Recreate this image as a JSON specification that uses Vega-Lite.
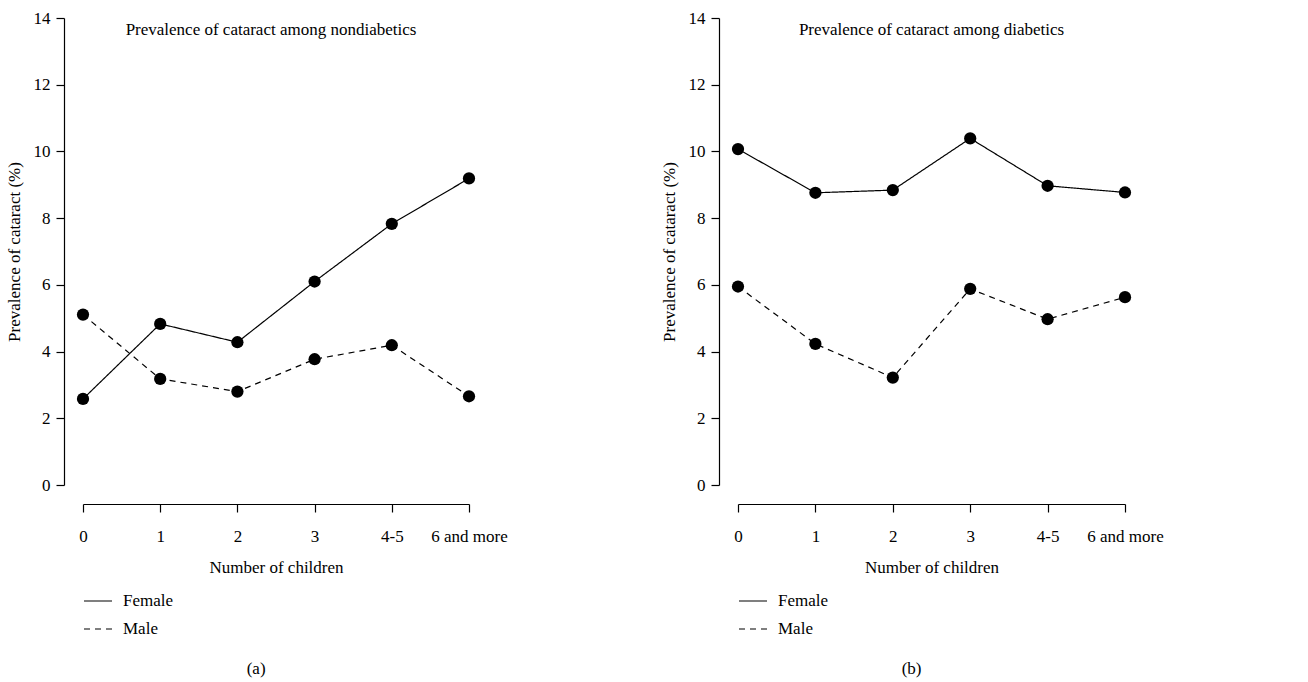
{
  "$schema": "https://vega.github.io/schema/vega-lite/v6.json",
  "background": "white",
  "padding": {"left": 5, "top": 9, "right": 5, "bottom": 5},
  "config": {
    "font": "Liberation Serif",
    "view": {"stroke": null},
    "axis": {
      "domainColor": "black", "tickColor": "black", "labelColor": "black", "titleColor": "black",
      "labelFont": "Liberation Serif", "titleFont": "Liberation Serif",
      "labelFontSize": 17, "titleFontSize": 17, "titleFontWeight": "normal",
      "grid": false, "tickSize": 8, "domainWidth": 1.2, "tickWidth": 1.2
    },
    "legend": {
      "labelFont": "Liberation Serif", "labelFontSize": 17, "labelColor": "black",
      "symbolType": "stroke", "symbolStrokeColor": "black", "symbolStrokeWidth": 1.2,
      "symbolSize": 784, "labelOffset": 10, "rowPadding": 5
    },
    "title": {"font": "Liberation Serif", "fontSize": 17, "fontWeight": "normal", "color": "black"}
  },
  "data": {
    "values": [
      {"panel": "a", "sex": "Female", "children": "0", "value": 2.58},
      {"panel": "a", "sex": "Female", "children": "1", "value": 4.83},
      {"panel": "a", "sex": "Female", "children": "2", "value": 4.28},
      {"panel": "a", "sex": "Female", "children": "3", "value": 6.10},
      {"panel": "a", "sex": "Female", "children": "4-5", "value": 7.83},
      {"panel": "a", "sex": "Female", "children": "6 and more", "value": 9.19},
      {"panel": "a", "sex": "Male", "children": "0", "value": 5.11},
      {"panel": "a", "sex": "Male", "children": "1", "value": 3.18},
      {"panel": "a", "sex": "Male", "children": "2", "value": 2.80},
      {"panel": "a", "sex": "Male", "children": "3", "value": 3.77},
      {"panel": "a", "sex": "Male", "children": "4-5", "value": 4.19},
      {"panel": "a", "sex": "Male", "children": "6 and more", "value": 2.66},
      {"panel": "b", "sex": "Female", "children": "0", "value": 10.07},
      {"panel": "b", "sex": "Female", "children": "1", "value": 8.76},
      {"panel": "b", "sex": "Female", "children": "2", "value": 8.84},
      {"panel": "b", "sex": "Female", "children": "3", "value": 10.39},
      {"panel": "b", "sex": "Female", "children": "4-5", "value": 8.97},
      {"panel": "b", "sex": "Female", "children": "6 and more", "value": 8.77},
      {"panel": "b", "sex": "Male", "children": "0", "value": 5.95},
      {"panel": "b", "sex": "Male", "children": "1", "value": 4.23},
      {"panel": "b", "sex": "Male", "children": "2", "value": 3.22},
      {"panel": "b", "sex": "Male", "children": "3", "value": 5.88},
      {"panel": "b", "sex": "Male", "children": "4-5", "value": 4.97},
      {"panel": "b", "sex": "Male", "children": "6 and more", "value": 5.63}
    ]
  },
  "spacing": 152,
  "hconcat": [
    {
      "title": {"text": "(a)", "orient": "bottom", "anchor": "middle", "offset": 24},
      "vconcat": [
        {
          "width": 386, "height": 467,
          "title": {"text": "Prevalence of cataract among nondiabetics", "dy": 34, "dx": -5},
          "transform": [{"filter": "datum.panel === 'a'"}],
          "encoding": {
            "x": {"field": "children", "type": "ordinal", "sort": ["0", "1", "2", "3", "4-5", "6 and more"],
                  "scale": {"type": "point", "padding": 0},
                  "axis": {"title": "Number of children", "labelAngle": 0, "offset": 19, "labelPadding": 16, "titlePadding": 15}},
            "y": {"field": "value", "type": "quantitative", "scale": {"domain": [0, 14], "nice": false},
                  "axis": {"title": "Prevalence of cataract (%)", "values": [0, 2, 4, 6, 8, 10, 12, 14], "offset": 19, "labelPadding": 6, "titlePadding": 10}}
          },
          "layer": [
            {
              "mark": {"type": "line", "color": "black", "strokeWidth": 1.2},
              "encoding": {
                "strokeDash": {"field": "sex", "type": "nominal",
                  "scale": {"domain": ["Female", "Male"], "range": [[1, 0], [6, 5]]},
                  "legend": {"title": null, "orient": "none", "legendX": 0, "legendY": 568}}
              }
            },
            {
              "mark": {"type": "circle", "size": 150, "opacity": 1, "color": "black"},
              "encoding": {"detail": {"field": "sex", "type": "nominal"}}
            }
          ]
        }
      ]
    },
    {
      "title": {"text": "(b)", "orient": "bottom", "anchor": "middle", "offset": 24},
      "vconcat": [
        {
          "width": 387, "height": 467,
          "title": {"text": "Prevalence of cataract among diabetics", "dy": 34},
          "transform": [{"filter": "datum.panel === 'b'"}],
          "encoding": {
            "x": {"field": "children", "type": "ordinal", "sort": ["0", "1", "2", "3", "4-5", "6 and more"],
                  "scale": {"type": "point", "padding": 0},
                  "axis": {"title": "Number of children", "labelAngle": 0, "offset": 19, "labelPadding": 16, "titlePadding": 15}},
            "y": {"field": "value", "type": "quantitative", "scale": {"domain": [0, 14], "nice": false},
                  "axis": {"title": "Prevalence of cataract (%)", "values": [0, 2, 4, 6, 8, 10, 12, 14], "offset": 19, "labelPadding": 6, "titlePadding": 10}}
          },
          "layer": [
            {
              "mark": {"type": "line", "color": "black", "strokeWidth": 1.2},
              "encoding": {
                "strokeDash": {"field": "sex", "type": "nominal",
                  "scale": {"domain": ["Female", "Male"], "range": [[1, 0], [6, 5]]},
                  "legend": {"title": null, "orient": "none", "legendX": 0, "legendY": 568}}
              }
            },
            {
              "mark": {"type": "circle", "size": 150, "opacity": 1, "color": "black"},
              "encoding": {"detail": {"field": "sex", "type": "nominal"}}
            }
          ]
        }
      ]
    }
  ],
  "resolve": {"scale": {"strokeDash": "independent"}}
}
